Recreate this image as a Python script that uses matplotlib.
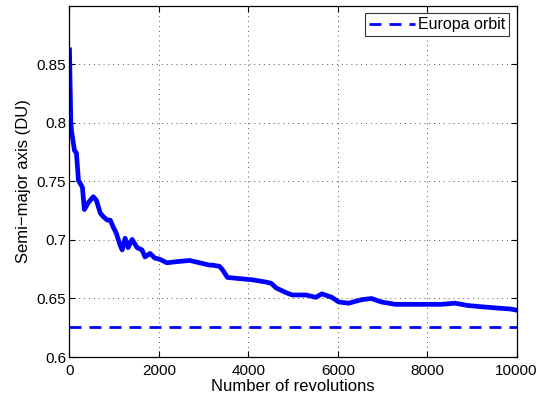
import matplotlib
matplotlib.use("Agg")
import matplotlib.pyplot as plt
from matplotlib.ticker import FixedLocator, FixedFormatter

plt.rcParams['font.family'] = ['Liberation Sans', 'DejaVu Sans']

revs = [0, 15, 30, 44, 111, 155, 200, 289, 333, 422, 533, 600, 689, 755, 844, 911,
        978, 1044, 1133, 1178, 1244, 1311, 1400, 1511, 1622, 1689, 1800, 1911, 2022,
        2178, 2400, 2689, 2911, 3133, 3200, 3355, 3422, 3533, 3800, 4089, 4400, 4511,
        4622, 4844, 4978, 5289, 5511, 5644, 5867, 6022, 6244, 6533, 6756, 6978, 7289,
        7800, 8311, 8622, 8911, 9200, 9511, 9867, 10000]
sma = [0.8625, 0.830, 0.800, 0.7935, 0.7765, 0.7745, 0.751, 0.745, 0.726, 0.732, 0.737,
       0.734, 0.723, 0.720, 0.717, 0.717, 0.711, 0.706, 0.6955, 0.6915, 0.7015, 0.6935,
       0.7005, 0.6935, 0.6915, 0.6855, 0.6885, 0.6845, 0.6835, 0.6805, 0.6815, 0.6825,
       0.6805, 0.6785, 0.6785, 0.6775, 0.6745, 0.668, 0.667, 0.666, 0.664, 0.663, 0.659,
       0.655, 0.653, 0.653, 0.651, 0.654, 0.651, 0.647, 0.646, 0.649, 0.650, 0.647,
       0.645, 0.645, 0.645, 0.646, 0.644, 0.643, 0.642, 0.641, 0.640]
europa_sma = 0.626

xticks = [0, 2000, 4000, 6000, 8000, 10000]
yticks = [0.6, 0.65, 0.7, 0.75, 0.8, 0.85]
ytick_labels = ['0.6', '0.65', '0.7', '0.75', '0.8', '0.85']

fig = plt.figure(figsize=(5.4, 3.98), dpi=100)
ax = fig.add_axes([0.1287, 0.103, 0.828, 0.882])

ax.plot(revs, sma, color='#0000ff', lw=3.4, solid_joinstyle='round')
ax.axhline(europa_sma, xmin=0.0, xmax=1.0, color='#0000ff', lw=2.0,
           ls=(0, (4.3, 2.9)), label='Europa orbit')

ax.set_xlim(0, 10000)
ax.set_ylim(0.6, 0.9)
ax.xaxis.set_major_locator(FixedLocator(xticks))
ax.yaxis.set_major_locator(FixedLocator(yticks))
ax.yaxis.set_major_formatter(FixedFormatter(ytick_labels))
ax.tick_params(direction='in', top=True, right=True, labelsize=11, length=4, width=0.8)
ax.tick_params(axis='y', pad=2.5)
ax.tick_params(axis='x', pad=5)
ax.grid(True, color='#555555', ls=(0, (1, 4)), lw=0.7)
for s in ax.spines.values():
    s.set_linewidth(0.9)

ax.set_xlabel('Number of revolutions', fontsize=12, labelpad=1)
ax.set_ylabel('Semi\u2212major axis (DU)', fontsize=12, labelpad=4)

leg = ax.legend(loc='upper right', fontsize=11.5, frameon=True, fancybox=False,
                handlelength=2.9, borderpad=0.25, handletextpad=0.2, borderaxespad=0.45)
leg.get_frame().set_edgecolor('black')
leg.get_frame().set_linewidth(0.8)

fig.savefig('out.png', dpi=100)
